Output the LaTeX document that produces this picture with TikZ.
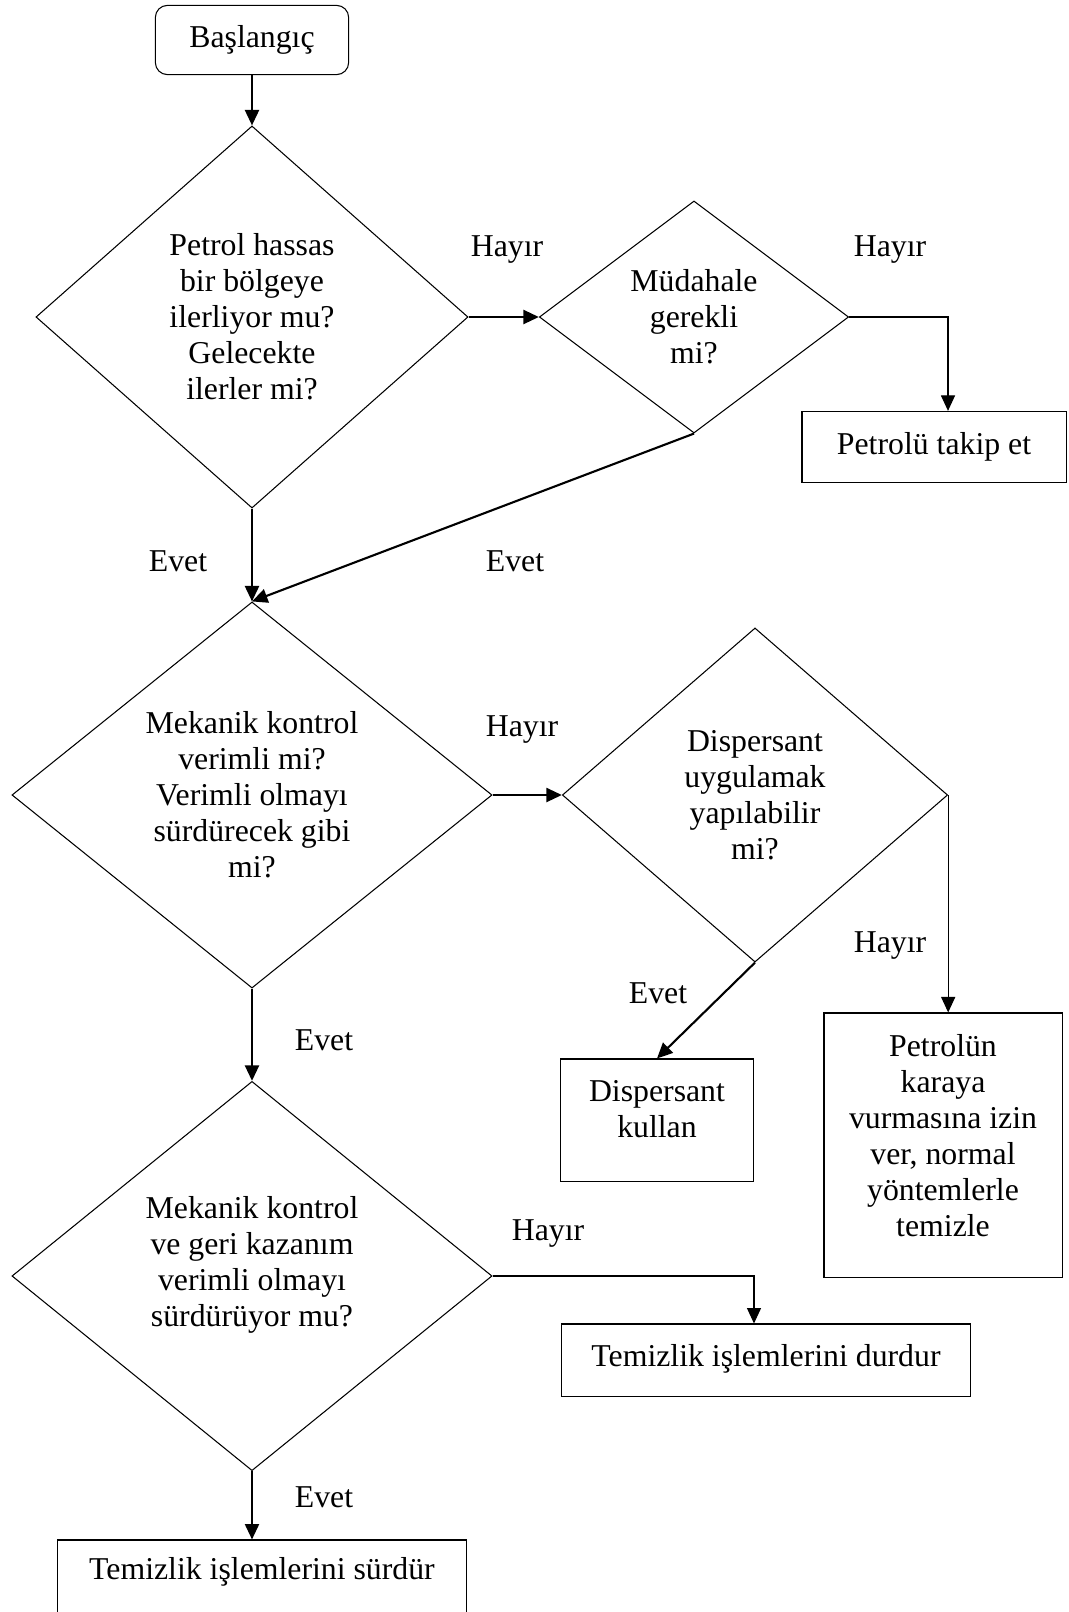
\documentclass[tikz,border=0pt]{standalone}
\usepackage{fontspec}
\setmainfont{Liberation Serif}
\usetikzlibrary{shapes.geometric,arrows.meta}
\newcommand{\textdrop}[1]{\rule[-#1]{0pt}{#1}}
\tikzset{
	txt/.style={font=\fontsize{22.6}{25.6}\selectfont, align=center},
	decision/.style={txt, draw, line width=0.75pt, shape=diamond, aspect=1.2, inner sep=0pt},
	block/.style={txt, draw, line width=0.75pt, rectangle, inner sep=0pt},
	startblock/.style={block, rounded corners=0.3cm},
	thickarrow/.style={line width=1.5pt, -{Triangle[length=11pt,width=10pt]}},
	thinarrow/.style={line width=0.75pt, -{Triangle[length=11pt,width=10pt]}}
}
\begin{document}
\begin{tikzpicture}[x=0.025cm,y=-0.025cm]
		\useasboundingbox (0,0) rectangle (1068,1612);

		\node[startblock, minimum width=4.83cm, minimum height=1.73cm] (start) at (252,40) {Başlangıç};
		\node[decision, minimum width=10.8cm, minimum height=9.55cm] (d1) at (252,317) {Petrol hassas\\bir bölgeye\\ilerliyor mu?\\Gelecekte\\ilerler mi?};
		\node[decision, minimum width=7.73cm, minimum height=5.8cm] (d2) at (694,317) {Müdahale\\gerekli\\mi?};
		\node[block, minimum width=6.6cm, minimum height=1.78cm] (takip) at (934,447) {Petrolü takip et};

		\node[decision, minimum width=12cm, minimum height=9.65cm] (d3) at (252,795) {Mekanik kontrol\\verimli mi?\\Verimli olmayı\\sürdürecek gibi\\mi?};
		\node[decision, minimum width=9.63cm, minimum height=8.35cm] (d4) at (755,795) {Dispersant\\uygulamak\\yapılabilir\\mi?};
		\node[block, minimum width=4.83cm, minimum height=3.05cm] (disp) at (657,1120) {Dispersant\\kullan\textdrop{15.6pt}};
		\node[block, minimum width=5.95cm, minimum height=6.6cm] (petrol) at (943,1145) {Petrolün\\karaya\\vurmasına izin\\ver, normal\\yöntemlerle\\temizle\textdrop{14pt}};

		\node[decision, minimum width=12cm, minimum height=9.73cm] (d5) at (252,1276) {Mekanik kontrol\\ve geri kazanım\\verimli olmayı\\sürdürüyor mu?\textdrop{21pt}};
		\node[block, minimum width=10.2cm, minimum height=1.8cm] (durdur) at (766,1360) {Temizlik işlemlerini durdur\textdrop{7pt}};
		\node[block, minimum width=10.2cm, minimum height=2.5cm] (surdur) at (262,1590) {Temizlik işlemlerini sürdür\textdrop{30pt}};

		\node[txt] (h1) at (507,250) {Hayır};
		\node[txt] (h2) at (890,250) {Hayır};
		\node[txt] (e1) at (178,561) {Evet};
		\node[txt] (e2) at (515,561) {Evet};
		\node[txt] (h3) at (522,730) {Hayır};
		\node[txt] (e3) at (658,993) {Evet};
		\node[txt] (h4) at (890,946) {Hayır};
		\node[txt] (e4) at (324,1040) {Evet};
		\node[txt] (h5) at (548,1234) {Hayır};
		\node[txt] (e5) at (324,1497) {Evet};

		\draw[thickarrow] (start) -- (d1);
		\draw[thickarrow] (d1.east) -- (d2.west);
		\draw[thinarrow] (d2.east) -| ([xshift=0.35cm]takip.north);
		\draw[thickarrow] (d1.south) -- (d3.north);
		\draw[thickarrow] (d2.south) -- (d3.north);
		\draw[thickarrow] (d3.east) -- (d4.west);
		\draw[thickarrow] (d4.south) -- (disp.north);
		\draw[thinarrow] (d4.east) -- (d4.east |- petrol.north);
		\draw[thickarrow] (d3.south) -- (d5.north);
		\draw[thinarrow] (d5.east) -| ([xshift=-0.3cm]durdur.north);
		\draw[thickarrow] (d5.south) -- (d5.south |- surdur.north);
	\end{tikzpicture}
\end{document}
